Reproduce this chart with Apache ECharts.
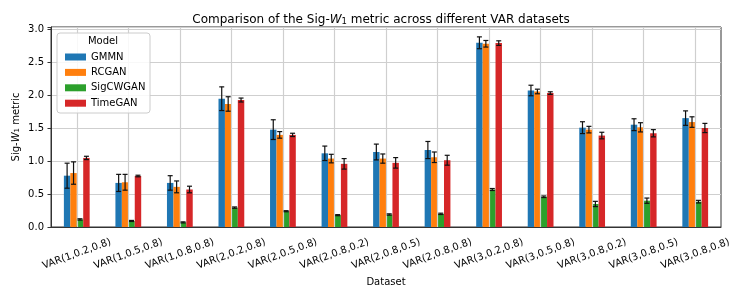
<!DOCTYPE html>
<html>
<head>
<meta charset="utf-8">
<script src="https://cdn.jsdelivr.net/npm/echarts@6/dist/echarts.min.js"></script>
<style>html,body{margin:0;padding:0;background:#fff}#c{width:747px;height:299px}</style>
</head>
<body>
<div id="c"></div>
<script>
const categories = ['VAR(1,0.2,0.8)','VAR(1,0.5,0.8)','VAR(1,0.8,0.8)','VAR(2,0.2,0.8)','VAR(2,0.5,0.8)','VAR(2,0.8,0.2)','VAR(2,0.8,0.5)','VAR(2,0.8,0.8)','VAR(3,0.2,0.8)','VAR(3,0.5,0.8)','VAR(3,0.8,0.2)','VAR(3,0.8,0.5)','VAR(3,0.8,0.8)'];
const models = ['GMMN','RCGAN','SigCWGAN','TimeGAN'];
const gmmn     = [0.78, 0.67, 0.67, 1.95, 1.48, 1.12, 1.14, 1.17, 2.80, 2.075, 1.51, 1.555, 1.655];
const gmmnErr  = [0.19, 0.13, 0.11, 0.18, 0.15, 0.11, 0.12, 0.13, 0.09, 0.08, 0.09, 0.09, 0.11];
const rcgan    = [0.82, 0.68, 0.61, 1.87, 1.40, 1.04, 1.04, 1.06, 2.785, 2.06, 1.48, 1.515, 1.595];
const rcganErr = [0.17, 0.12, 0.09, 0.11, 0.05, 0.065, 0.07, 0.08, 0.05, 0.035, 0.05, 0.07, 0.08];
const sigcwgan    = [0.115, 0.092, 0.07, 0.295, 0.24, 0.18, 0.19, 0.20, 0.57, 0.46, 0.35, 0.40, 0.385];
const sigcwganErr = [0.01, 0.008, 0.008, 0.01, 0.008, 0.008, 0.01, 0.01, 0.015, 0.012, 0.04, 0.04, 0.02];
const timegan    = [1.05, 0.775, 0.57, 1.93, 1.40, 0.96, 0.975, 1.015, 2.795, 2.035, 1.39, 1.425, 1.505];
const timeganErr = [0.025, 0.012, 0.05, 0.03, 0.025, 0.08, 0.08, 0.075, 0.035, 0.02, 0.05, 0.055, 0.07];
const yTicks = [0, 0.5, 1.0, 1.5, 2.0, 2.5, 3.0];

const colors = ['#1f77b4','#ff7f0e','#2ca02c','#d62728'];
const values = [gmmn, rcgan, sigcwgan, timegan];
const errs = [gmmnErr, rcganErr, sigcwganErr, timeganErr];
const FONT = 'DejaVu Sans';

const series = [];
series.push({
  type: 'line', name: '_grid', data: [], z: 1, silent: true,
  markLine: {
    silent: true, symbol: ['none', 'none'], label: { show: false },
    lineStyle: { color: '#cfcfcf', width: 1.2, type: 'solid' },
    data: categories.map(c => ({ xAxis: c }))
  }
});
models.forEach((m, k) => {
  series.push({
    name: m, type: 'bar', data: values[k], barWidth: '12.5%', barGap: '0%',
    itemStyle: { color: colors[k] }, z: 2
  });
});
models.forEach((m, k) => {
  series.push({
    type: 'custom', name: m + ' err', z: 5, silent: true,
    encode: { x: 0, y: 1 },
    data: values[k].map((v, i) => [i, v, errs[k][i]]),
    renderItem: function (params, api) {
      const idx = api.value(0), v = api.value(1), e = api.value(2);
      const band = api.size([1, 0])[0];
      const bw = band * 0.125;
      const cx = api.coord([idx, v])[0] + (k - 1.5) * bw;
      const yT = api.coord([idx, v + e])[1];
      const yB = api.coord([idx, v - e])[1];
      const cap = 2.5;
      const st = { stroke: '#111', lineWidth: 1.2 };
      return { type: 'group', children: [
        { type: 'line', shape: { x1: cx, y1: yT, x2: cx, y2: yB }, style: st },
        { type: 'line', shape: { x1: cx - cap, y1: yT, x2: cx + cap, y2: yT }, style: st },
        { type: 'line', shape: { x1: cx - cap, y1: yB, x2: cx + cap, y2: yB }, style: st }
      ]};
    }
  });
});

const chart = echarts.init(document.getElementById('c'), null, { renderer: 'canvas' });
chart.setOption({
  animation: false,
  color: colors,
  textStyle: { fontFamily: FONT },
  title: {
    text: 'Comparison of the Sig-{i|W}{s|1} metric across different VAR datasets',
    left: 376, top: 8, textAlign: 'center',
    textStyle: {
      fontFamily: FONT, fontSize: 12, fontWeight: 'normal', color: '#000',
      rich: {
        i: { fontFamily: FONT, fontSize: 12, fontStyle: 'italic', color: '#000' },
        s: { fontFamily: FONT, fontSize: 8.5, color: '#000', verticalAlign: 'bottom', padding: [4, 0, 0, 0] }
      }
    }
  },
  grid: { left: 51, right: 26, top: 27, bottom: 72, show: true, borderColor: '#333', borderWidth: 1,
    backgroundColor: 'transparent', outerBoundsMode: 'none', containLabel: false },
  legend: {
    orient: 'vertical', left: 60, top: 46, icon: 'rect', itemWidth: 21, itemHeight: 7, itemGap: 3.4,
    data: models, z: 10,
    textStyle: { fontFamily: FONT, fontSize: 10, color: '#000', lineHeight: 12 }
  },
  graphic: [
    { type: 'rect', x: 57, y: 33, z: 8, shape: { width: 93, height: 80, r: 3 },
      style: { fill: 'rgba(255,255,255,0.85)', stroke: '#cccccc', lineWidth: 1 } },
    { type: 'text', x: 103, y: 41, z: 9,
      style: { text: 'Model', textAlign: 'center', textVerticalAlign: 'middle', font: '10px "DejaVu Sans"', fill: '#000' } }
  ],
  xAxis: {
    type: 'category', data: categories,
    name: 'Dataset', nameLocation: 'middle', nameGap: 50, nameMoveOverlap: false,
    nameTextStyle: { fontFamily: FONT, fontSize: 10, color: '#000' },
    axisLine: { lineStyle: { color: '#333', width: 1 } },
    axisTick: { alignWithLabel: true, length: 3.5, lineStyle: { color: '#333' } },
    axisLabel: { rotate: 20, align: 'center', verticalAlign: 'middle', margin: 27, interval: 0,
      fontFamily: FONT, fontSize: 10, color: '#000' },
    splitLine: { show: false }
  },
  yAxis: {
    type: 'value', min: 0, max: 3.04, interval: 0.5,
    name: 'Sig-{i|W}{s|1} metric', nameLocation: 'middle', nameGap: 30, nameRotate: 90, nameMoveOverlap: false,
    nameTextStyle: {
      fontFamily: FONT, fontSize: 10, color: '#000',
      rich: {
        i: { fontFamily: FONT, fontSize: 10, fontStyle: 'italic', color: '#000' },
        s: { fontFamily: FONT, fontSize: 7, color: '#000', verticalAlign: 'bottom', padding: [3, 0, 0, 0] }
      }
    },
    axisLine: { show: true, lineStyle: { color: '#333', width: 1 } },
    axisTick: { show: true, length: 3.5, lineStyle: { color: '#333' } },
    axisLabel: { fontFamily: FONT, fontSize: 10, color: '#000', margin: 7,
      formatter: function (v) { return yTicks.indexOf(Math.round(v * 100) / 100) >= 0 ? v.toFixed(1) : ''; } },
    splitLine: { show: true, lineStyle: { color: '#cfcfcf', width: 1.2 } }
  },
  series: series
});
</script>
</body>
</html>
